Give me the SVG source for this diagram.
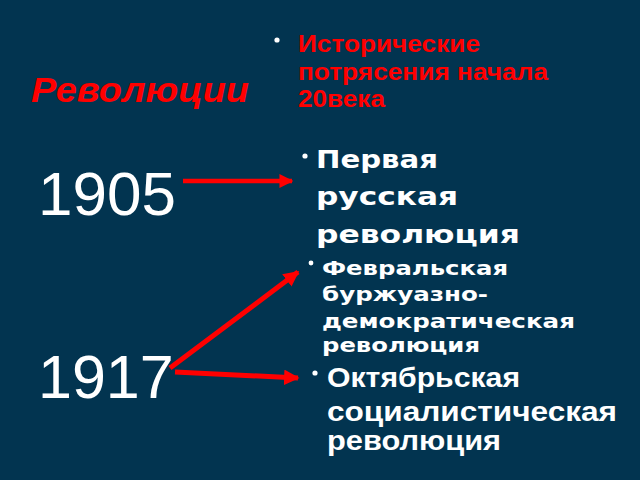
<svg xmlns="http://www.w3.org/2000/svg" width="640" height="480" viewBox="0 0 640 480">
<defs>
<style>
.red{fill:#ff0000;font-family:"Liberation Sans",Arial,sans-serif;font-weight:bold}
.w{fill:#ffffff}
.dj{font-family:"DejaVu Sans",sans-serif;font-weight:bold}
.ls{font-family:"Liberation Sans",Arial,sans-serif}
.conn{stroke:#ff0000;stroke-width:4.5;fill:none;marker-end:url(#ah)}
.thick{stroke-width:5}
</style>
<marker id="ah" viewBox="0 0 10 10" refX="9" refY="5" markerWidth="3.1" markerHeight="3.1" orient="auto" markerUnits="strokeWidth">
<path d="M0,0 L10,5 L0,10 z" fill="#ff0000"/>
</marker>
</defs>
<rect width="640" height="480" fill="#023450"/>
<g id="title">
<text x="31" y="102" class="ls" font-size="35" font-weight="bold" font-style="italic" fill="#ff0000" textLength="218" lengthAdjust="spacingAndGlyphs">Революции</text>
</g>
<g id="header">
<circle cx="277" cy="40" r="2.6" fill="#ffffff"/>
<text class="red" font-size="23">
<tspan x="298" y="52" textLength="182" lengthAdjust="spacingAndGlyphs">Исторические</tspan>
<tspan x="298" y="80" textLength="250" lengthAdjust="spacingAndGlyphs">потрясения начала</tspan>
<tspan x="298" y="107" textLength="87" lengthAdjust="spacingAndGlyphs">20века</tspan>
</text>
</g>
<g id="y1905">
<text x="38" y="215" class="ls w" font-size="62">1905</text>
</g>
<g id="y1917">
<text x="38" y="398" class="ls w" font-size="61">1917</text>
</g>
<g id="first">
<circle cx="305" cy="156" r="2.6" fill="#ffffff"/>
<text class="dj w" font-size="24.5">
<tspan x="316" y="168" textLength="122" lengthAdjust="spacingAndGlyphs">Первая</tspan>
<tspan x="316" y="205" textLength="142" lengthAdjust="spacingAndGlyphs">русская</tspan>
<tspan x="316" y="243" textLength="204" lengthAdjust="spacingAndGlyphs">революция</tspan>
</text>
</g>
<g id="feb">
<circle cx="311" cy="263" r="2.4" fill="#ffffff"/>
<text class="dj w" font-size="19.5">
<tspan x="322" y="275" textLength="186" lengthAdjust="spacingAndGlyphs">Февральская</tspan>
<tspan x="322" y="301" textLength="166" lengthAdjust="spacingAndGlyphs">буржуазно-</tspan>
<tspan x="322" y="328" textLength="253" lengthAdjust="spacingAndGlyphs">демократическая</tspan>
<tspan x="322" y="352" textLength="158" lengthAdjust="spacingAndGlyphs">революция</tspan>
</text>
</g>
<g id="oct">
<circle cx="315" cy="373" r="2.6" fill="#ffffff"/>
<text class="ls w" font-size="27" font-weight="bold">
<tspan x="327" y="387" textLength="193" lengthAdjust="spacingAndGlyphs">Октябрьская</tspan>
<tspan x="327" y="421" textLength="290" lengthAdjust="spacingAndGlyphs">социалистическая</tspan>
<tspan x="327" y="450" textLength="174" lengthAdjust="spacingAndGlyphs">революция</tspan>
</text>
</g>
<g id="connectors">
<line class="conn" x1="183" y1="181" x2="292" y2="181"/>
<line class="conn thick" x1="170" y1="368" x2="298" y2="272"/>
<line class="conn thick" x1="175" y1="372" x2="298" y2="378"/>
</g>
</svg>
